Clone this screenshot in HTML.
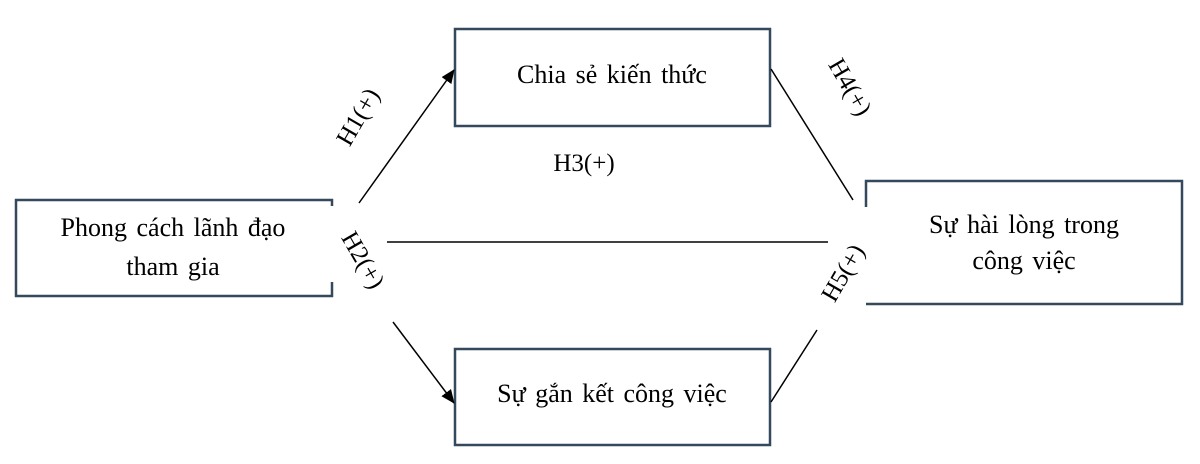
<!DOCTYPE html>
<html><head><meta charset="utf-8"><style>
body{margin:0;background:#fff;}
svg text{font-family:"Liberation Serif",serif;fill:#000;}
</style></head><body>
<svg width="1200" height="459" viewBox="0 0 1200 459" xmlns="http://www.w3.org/2000/svg">
<defs><marker id="a" markerWidth="14" markerHeight="12" refX="13" refY="6" orient="auto" markerUnits="userSpaceOnUse"><path d="M0,0 L14,6 L0,12 z" fill="#000"/></marker></defs>
<g fill="none" stroke="#34495e" stroke-width="2.5">
<path d="M332,206 V200 H16 V296 H332 V282"/>
<rect x="455" y="29" width="315" height="97"/>
<rect x="455" y="349" width="315" height="96"/>
<path d="M866,207 V181 H1182 V304 H866"/>
</g>
<g stroke="#000" stroke-width="1.5" fill="none">
<line x1="359" y1="203" x2="454" y2="70" marker-end="url(#a)"/>
<line x1="393" y1="322" x2="454" y2="403" marker-end="url(#a)"/>
<line x1="387" y1="242" x2="828" y2="242"/>
<line x1="771" y1="69" x2="853" y2="200"/>
<line x1="771" y1="402" x2="817" y2="330"/>
</g>
<g font-size="26" text-anchor="middle" word-spacing="3">
<text x="173" y="236">Phong cách lãnh đạo</text>
<text x="173" y="275">tham gia</text>
<text x="612" y="83">Chia sẻ kiến thức</text>
<text x="612" y="402">Sự gắn kết công việc</text>
<text x="1024" y="233">Sự hài lòng trong</text>
<text x="1024" y="269">công việc</text>
</g>
<g font-size="25" text-anchor="middle">
<text x="584" y="171">H3(+)</text>
<text transform="translate(358,117) rotate(-60)" y="8">H1(+)</text>
<text transform="translate(363,260) rotate(60)" y="8">H2(+)</text>
<text transform="translate(850,87) rotate(60)" y="8">H4(+)</text>
<text transform="translate(843,273) rotate(-60)" y="8">H5(+)</text>
</g>
</svg>
</body></html>
